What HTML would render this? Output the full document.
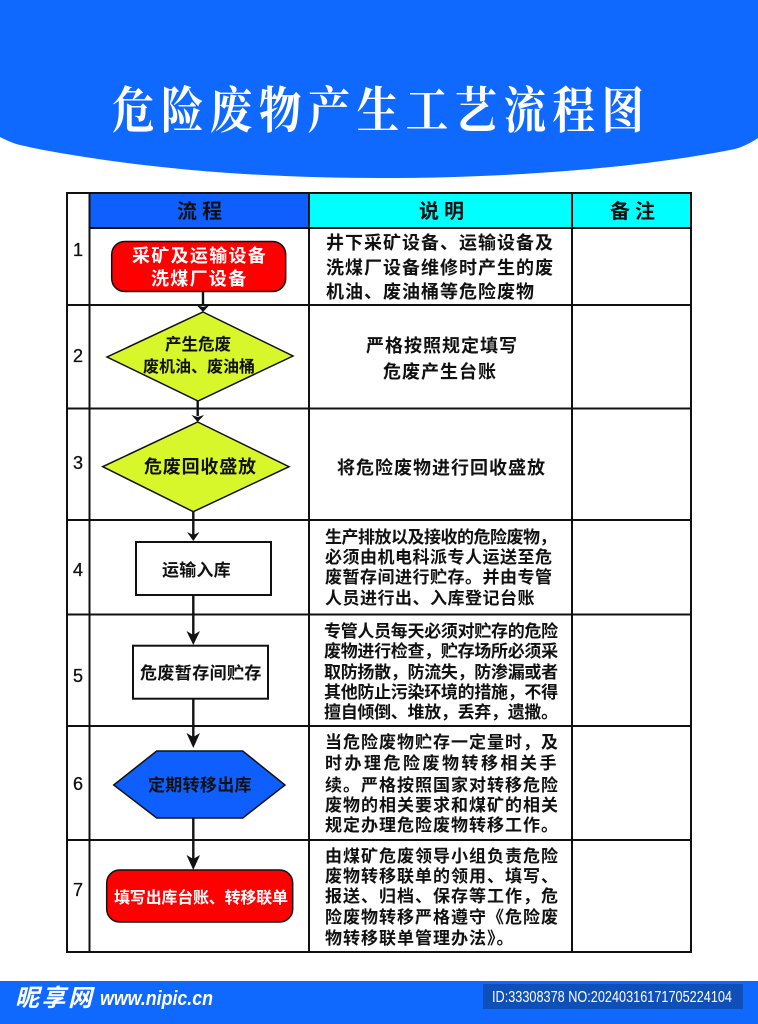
<!DOCTYPE html>
<html lang="zh">
<head>
<meta charset="utf-8">
<title>危险废物产生工艺流程图</title>
<style>
html,body{margin:0;padding:0;background:#fff;width:758px;height:1024px;overflow:hidden}
svg{display:block}
text{font-family:"Liberation Sans","Noto Sans CJK SC",sans-serif;font-weight:700;fill:#111}
.d{font-size:17px}
.b{font-size:18px;letter-spacing:1px}
.h{font-size:20px;letter-spacing:5px}
.n{font-size:18px;font-weight:400;text-anchor:middle;stroke:#111;stroke-width:.3}
.w{fill:#fff}
line.g{stroke:#111;stroke-width:2}
line.a{stroke:#111;stroke-width:2.4}
</style>
</head>
<body>
<svg width="758" height="1024" viewBox="0 0 758 1024" xmlns="http://www.w3.org/2000/svg">
<rect width="758" height="1024" fill="#fff"/>
<path d="M0,0H758V138C752,142 745,146 735,149C640,168 510,178 380,178C290,178 205,173 127,163C90,158 50,152 20,145C12,143 6,140 0,137Z" fill="#0f69ff"/>
<text transform="translate(112,128) scale(.85,1)" style="font-family:'Liberation Serif','Noto Serif CJK SC',serif;font-size:50px;font-weight:700;fill:#fff;letter-spacing:7.600px">危险废物产生工艺流程图</text>

<rect x="90" y="193" width="219" height="35" fill="#0f5fff"/>
<rect x="309" y="193" width="263" height="35" fill="#00ffff"/>
<rect x="572" y="193" width="119" height="35" fill="#00ffff"/>

<g>
<rect x="67" y="193" width="624" height="759" fill="none" stroke="#111" stroke-width="2"/>
<line class="g" x1="89.500" y1="193" x2="89.500" y2="952"/>
<line class="g" x1="309" y1="193" x2="309" y2="952"/>
<line class="g" x1="572" y1="193" x2="572" y2="952"/>
<line class="g" x1="90" y1="228" x2="691" y2="228"/>
<line class="g" x1="67" y1="305" x2="691" y2="305"/>
<line class="g" x1="67" y1="408.500" x2="691" y2="408.500"/>
<line class="g" x1="67" y1="520" x2="691" y2="520"/>
<line class="g" x1="67" y1="614.500" x2="691" y2="614.500"/>
<line class="g" x1="67" y1="726" x2="691" y2="726"/>
<line class="g" x1="67" y1="840" x2="691" y2="840"/>
</g>

<text class="h" x="177" y="218">流程</text>
<text class="h" x="419" y="218">说明</text>
<text class="h" x="610" y="218">备注</text>

<text class="n" x="78" y="256">1</text>
<text class="n" x="78" y="362">2</text>
<text class="n" x="78" y="469">3</text>
<text class="n" x="78" y="576">4</text>
<text class="n" x="78" y="682">5</text>
<text class="n" x="78" y="790">6</text>
<text class="n" x="78" y="896">7</text>

<line class="a" x1="203" y1="291" x2="203" y2="306"/>
<path d="M196.500,305L203,312L209.500,305L203,307Z" fill="#111"/>
<line class="a" x1="197.700" y1="400" x2="197.700" y2="416"/>
<path d="M191.500,415L197.700,422L204,415L197.700,417Z" fill="#111"/>
<line class="a" x1="193.300" y1="511" x2="193.300" y2="535"/>
<path d="M187,532L193.300,541L199.500,532L193.300,535Z" fill="#111"/>
<line class="a" x1="193.300" y1="595" x2="193.300" y2="638"/>
<path d="M186.500,631L193.300,645L200,631L193.300,635Z" fill="#111"/>
<line class="a" x1="193.300" y1="698" x2="193.300" y2="740"/>
<path d="M186.500,733L193.300,748L200,733L193.300,737Z" fill="#111"/>
<line class="a" x1="193.300" y1="818" x2="193.300" y2="863"/>
<path d="M186.500,855L193.300,870L200,855L193.300,859Z" fill="#111"/>

<rect x="111.700" y="241.500" width="174" height="50" rx="13" fill="#ff0000" stroke="#111" stroke-width="1.500"/>
<text class="w" x="132" y="262" style="letter-spacing:1.300px;font-size:18px">采矿及运输设备</text>
<text class="w" x="151" y="285" style="letter-spacing:1.300px;font-size:18px">洗煤厂设备</text>

<polygon points="203,312 293,356 198,401 107,357" fill="#d8f72a" stroke="#111" stroke-width="1.500"/>
<text x="165" y="350" style="font-size:16.500px">产生危废</text>
<text x="143" y="372" style="font-size:16px">废机油、废油桶</text>

<polygon points="197.700,422 289,466.700 193.300,511.700 102.700,466.700" fill="#d8f72a" stroke="#111" stroke-width="1.500"/>
<text x="144" y="473" style="font-size:18px;letter-spacing:.8px">危废回收盛放</text>

<rect x="136" y="542" width="135" height="53" fill="#fff" stroke="#111" stroke-width="2"/>
<text x="162" y="576" style="font-size:17px;letter-spacing:.2px">运输入库</text>

<rect x="133" y="645.700" width="135" height="53" fill="#fff" stroke="#111" stroke-width="2"/>
<text x="140" y="679" style="font-size:17px;letter-spacing:.4px">危废暂存间贮存</text>

<polygon points="113.700,785 156.700,751 242.700,751 285,785 242.700,818 156.700,818" fill="#0f5fff" stroke="#111" stroke-width="1.500"/>
<text x="148" y="791" style="font-size:17px;letter-spacing:.3px">定期转移出库</text>

<rect x="106.700" y="870" width="186" height="52" rx="13" fill="#ff0000" stroke="#111" stroke-width="1.500"/>
<text class="w" x="114" y="903" style="font-size:16px;letter-spacing:-.2px">填写出库台账、转移联单</text>

<text class="b" x="326" y="249">井下采矿设备、运输设备及</text>
<text class="b" x="326" y="274">洗煤厂设备维修时产生的废</text>
<text class="b" x="326" y="298">机油、废油桶等危险废物</text>

<text class="b" x="366" y="352">严格按照规定填写</text>
<text class="b" x="383" y="378">危废产生台账</text>

<text class="b" x="337" y="474">将危险废物进行回收盛放</text>

<text class="d" x="325" y="543" style="letter-spacing:-.5px">生产排放以及接收的危险废物，</text>
<text class="d" x="325" y="563" style="letter-spacing:.5px">必须由机电科派专人运送至危</text>
<text class="d" x="325" y="583" style="letter-spacing:.5px">废暂存间进行贮存。并由专管</text>
<text class="d" x="325" y="604" style="letter-spacing:.5px">人员进行出、入库登记台账</text>

<text class="d" x="324" y="637" style="letter-spacing:-.3px">专管人员每天必须对贮存的危险</text>
<text class="d" x="324" y="657" style="letter-spacing:-.3px">废物进行检查，贮存场所必须采</text>
<text class="d" x="324" y="678" style="letter-spacing:-.3px">取防扬散，防流失，防渗漏或者</text>
<text class="d" x="324" y="698" style="letter-spacing:-.3px">其他防止污染环境的措施，不得</text>
<text class="d" x="324" y="718" style="letter-spacing:-.3px">擅自倾倒、堆放，丢弃，遗撒。</text>

<text class="d" x="325" y="748" style="letter-spacing:1px">当危险废物贮存一定量时，及</text>
<text class="d" x="325" y="769" style="letter-spacing:2.500px">时办理危险废物转移相关手</text>
<text class="d" x="325" y="791" style="letter-spacing:1px">续。严格按照国家对转移危险</text>
<text class="d" x="325" y="811" style="letter-spacing:1px">废物的相关要求和煤矿的相关</text>
<text class="d" x="325" y="831" style="letter-spacing:1px">规定办理危险废物转移工作。</text>

<text class="d" x="325" y="862" style="letter-spacing:1px">由煤矿危废领导小组负责危险</text>
<text class="d" x="325" y="882" style="letter-spacing:1px">废物转移联单的领用、填写、</text>
<text class="d" x="325" y="902" style="letter-spacing:1px">报送、归档、保存等工作，危</text>
<text class="d" x="325" y="923" style="letter-spacing:1px">险废物转移严格遵守《危险废</text>
<text class="d" x="325" y="944" style="letter-spacing:1px">物转移联单管理办法》。</text>

<rect x="0" y="981" width="758" height="43" fill="#0f69ff"/>
<rect x="483" y="984" width="260" height="25" fill="#0f50b8"/>
<text x="15" y="1006" class="w" style="font-size:24px;font-style:italic;letter-spacing:2.500px">昵享网</text>
<text transform="translate(100,1005) scale(.89,1)" class="w" style="font-size:20px;font-style:italic">www.nipic.cn</text>
<text x="492" y="1002" class="w" style="font-size:16px;font-weight:400" textLength="240" lengthAdjust="spacingAndGlyphs">ID:33308378 NO:20240316171705224104</text>
</svg>
</body>
</html>
